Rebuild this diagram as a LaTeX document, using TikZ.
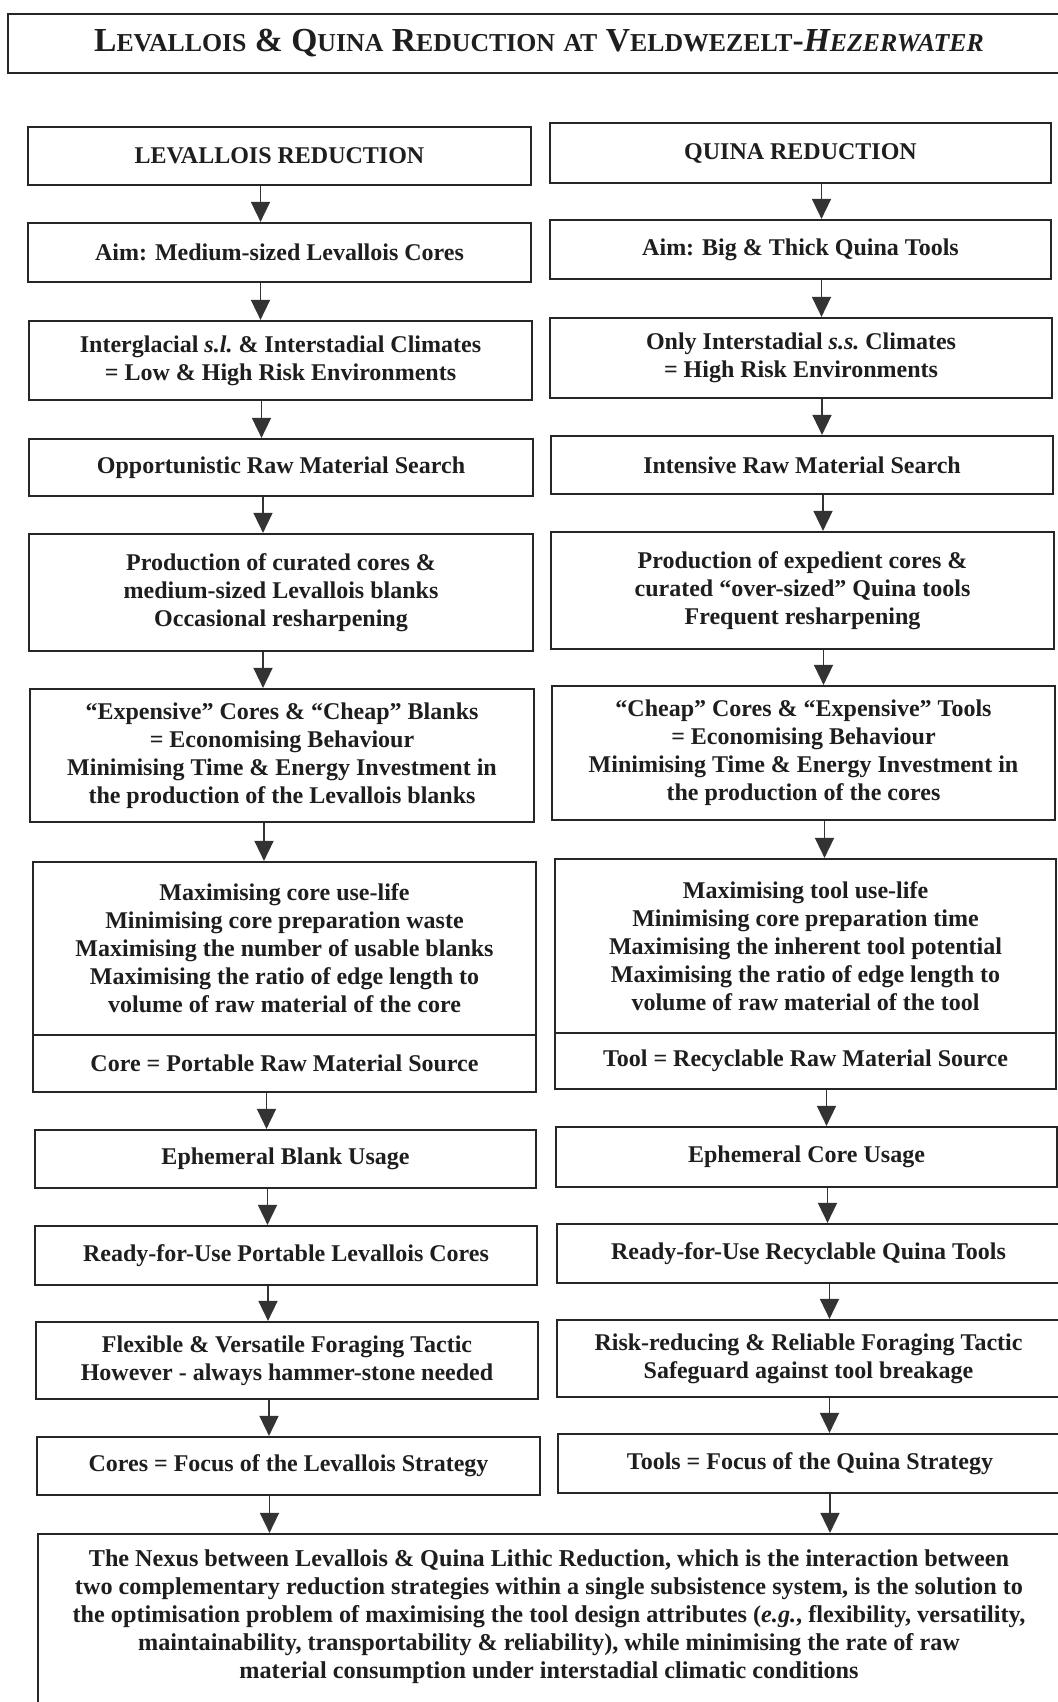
\documentclass[tikz,border=0pt]{standalone}
\usepackage{fontspec}
\setmainfont{Liberation Serif}
\usetikzlibrary{arrows.meta,calc}
\definecolor{ink}{HTML}{1E1E1E}
\definecolor{linec}{HTML}{262626}
\definecolor{arrc}{HTML}{333333}
\tikzset{
  box/.style={draw=linec, line width=1.1pt, inner sep=0pt, align=center, text=ink,
    font=\fontsize{12}{14}\selectfont\bfseries},
  arr/.style={draw=arrc, line width=0.8pt, -{Triangle[length=10pt,width=9.5pt]}},
  titlebox/.style={draw=linec, line width=1.1pt, inner sep=0pt, text=ink,
    font=\fontsize{16.8}{18}\selectfont\bfseries}
}
\newcommand\bx[6]{\node[box, minimum width={(#4-#2)*0.5pt}, minimum height={(#5-#3)*0.5pt}] (#1) at ({(#2+#4)/2},{(#3+#5)/2}) {#6};}
\newcommand\conn[3]{\path ([xshift=#3]#1.south) coordinate (#1o); \draw[arr] (#1o) -- (#1o |- #2.north);}
\newcommand\tsc[2]{{\fontsize{16.8}{18}\selectfont #1}{\fontsize{12.9}{18}\selectfont #2}}
\begin{document}
\begin{tikzpicture}[x=0.5pt,y=-0.5pt]
\useasboundingbox (0,0) rectangle (1058,1702);
\fill[white] (0,0) rectangle (1058,1702);
\clip (0,0) rectangle (1058,1702);
% title
\node[titlebox, minimum width={(1070-8)*0.5pt}, minimum height={(73-14)*0.5pt}] (T) at (539,43.5)
  {\tsc{L}{EVALLOIS} \& \tsc{Q}{UINA} \tsc{R}{EDUCTION} \tsc{}{AT} \tsc{V}{ELDWEZELT}-\textit{\tsc{H}{EZERWATER}}};
% left column
\bx{L1}{28}{127}{531}{185}{LEVALLOIS REDUCTION}
\bx{L2}{28}{223}{531}{282}{Aim: Medium-sized Levallois Cores}
\bx{L3}{29}{321}{532}{400}{Interglacial \textit{s.l.}\ \& Interstadial Climates\\= Low \& High Risk Environments}
\bx{L4}{29}{439}{533}{496}{Opportunistic Raw Material Search}
\bx{L5}{29}{534}{533}{651}{Production of curated cores \&\\medium-sized Levallois blanks\\Occasional resharpening}
\bx{L6}{30}{689}{534}{822}{“Expensive” Cores \& “Cheap” Blanks\\= Economising Behaviour\\Minimising Time \& Energy Investment in\\the production of the Levallois blanks}
\bx{L7}{33}{862}{536}{1035}{Maximising core use-life\\Minimising core preparation waste\\Maximising the number of usable blanks\\Maximising the ratio of edge length to\\volume of raw material of the core}
\bx{L7b}{33}{1035}{536}{1092}{Core = Portable Raw Material Source}
\bx{L8}{35}{1130}{536}{1188}{Ephemeral Blank Usage}
\bx{L9}{35}{1226}{537}{1285}{Ready-for-Use Portable Levallois Cores}
\bx{L10}{36}{1322}{538}{1399}{Flexible \& Versatile Foraging Tactic\\However - always hammer-stone needed}
\bx{L11}{37}{1437}{540}{1495}{Cores = Focus of the Levallois Strategy}
% right column
\bx{R1}{550}{123}{1051}{183}{QUINA REDUCTION}
\bx{R2}{550}{220}{1051}{279}{Aim: Big \& Thick Quina Tools}
\bx{R3}{550}{318}{1052}{398}{Only Interstadial \textit{s.s.}\ Climates\\= High Risk Environments}
\bx{R4}{551}{436}{1053}{494}{Intensive Raw Material Search}
\bx{R5}{551}{532}{1054}{649}{Production of expedient cores \&\\curated “over-sized” Quina tools\\Frequent resharpening}
\bx{R6}{552}{686}{1055}{820}{“Cheap” Cores \& “Expensive” Tools\\= Economising Behaviour\\Minimising Time \& Energy Investment in\\the production of the cores}
\bx{R7}{555}{859}{1056}{1033}{Maximising tool use-life\\Minimising core preparation time\\Maximising the inherent tool potential\\Maximising the ratio of edge length to\\volume of raw material of the tool}
\bx{R7b}{555}{1033}{1056}{1089}{Tool = Recyclable Raw Material Source}
\bx{R8}{556}{1127}{1057}{1187}{Ephemeral Core Usage}
\bx{R9}{557}{1224}{1060}{1283}{Ready-for-Use Recyclable Quina Tools}
\bx{R10}{557}{1320}{1060}{1397}{Risk-reducing \& Reliable Foraging Tactic\\Safeguard against tool breakage}
\bx{R11}{558}{1434}{1062}{1493}{Tools = Focus of the Quina Strategy}
% bottom box
\node[box, minimum width={(1062-38)*0.5pt}, minimum height={(1720-1534)*0.5pt}] (B) at (550,1627) {};
\node[align=center, inner sep=0pt, text=ink, font=\fontsize{12.1}{14}\selectfont\bfseries] (Btxt) at (549,1617)
  {The Nexus between Levallois \& Quina Lithic Reduction, which is the interaction between\\
   two complementary reduction strategies within a single subsistence system, is the solution to\\
   the optimisation problem of maximising the tool design attributes (\textit{e.g.}, flexibility, versatility,\\
   maintainability, transportability \& reliability), while minimising the rate of raw\\
   material consumption under interstadial climatic conditions};
% connectors
\conn{L1}{L2}{-9.5pt}
\conn{L2}{L3}{-9.5pt}
\conn{L3}{L4}{-9.5pt}
\conn{L4}{L5}{-9pt}
\conn{L5}{L6}{-9pt}
\conn{L6}{L7}{-9pt}
\conn{L7b}{L8}{-9pt}
\conn{L8}{L9}{-9pt}
\conn{L9}{L10}{-9pt}
\conn{L10}{L11}{-9pt}
\conn{L11}{B}{-9.5pt}
\conn{R1}{R2}{10.5pt}
\conn{R2}{R3}{10.5pt}
\conn{R3}{R4}{10.5pt}
\conn{R4}{R5}{10.5pt}
\conn{R5}{R6}{10.5pt}
\conn{R6}{R7}{10.5pt}
\conn{R7b}{R8}{10.5pt}
\conn{R8}{R9}{10.5pt}
\conn{R9}{R10}{10.5pt}
\conn{R10}{R11}{10.5pt}
\conn{R11}{B}{10pt}
\end{tikzpicture}
\end{document}
